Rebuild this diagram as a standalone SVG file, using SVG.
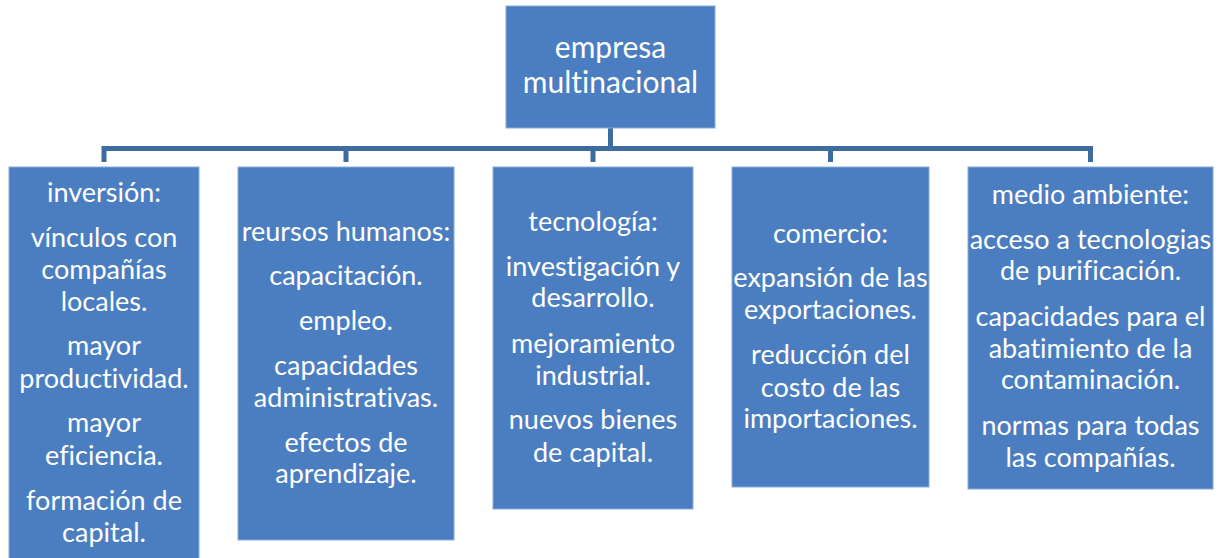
<svg xmlns="http://www.w3.org/2000/svg" width="1222" height="558" viewBox="0 0 1222 558">
<style>
.box{fill:#4B7EC0;stroke:#8AAAD8;stroke-width:1}
.t{font-family:Lato,"Liberation Sans",sans-serif;font-size:27px;fill:#fff;text-anchor:middle;font-variant-ligatures:none}
.tt{font-family:Lato,"Liberation Sans",sans-serif;font-size:30px;fill:#fff;text-anchor:middle;font-variant-ligatures:none}
.c{stroke:#3F6C9E;stroke-width:5;fill:none}
</style>
<rect width="1222" height="558" fill="#fff"/>
<g id="connectors">
<path class="c" d="M610.5 128V148.5M104 162V148.5H1090.5V162M346 148.5V162M593 148.5V162M830.5 148.5V162"/>
</g>
<g id="n0">
<rect class="box" x="506" y="6" width="209" height="122"/>
<text class="tt" x="610.5" y="58">empresa</text>
<text class="tt" x="610.5" y="93">multinacional</text>
</g>
<g id="n1">
<rect class="box" x="9" y="167" width="190" height="395"/>
<text class="t" x="104" y="202">inversión:</text>
<text class="t" x="104" y="247">vínculos con</text>
<text class="t" x="104" y="279">compañías</text>
<text class="t" x="104" y="311">locales.</text>
<text class="t" x="104" y="355">mayor</text>
<text class="t" x="104" y="388">productividad.</text>
<text class="t" x="104" y="432">mayor</text>
<text class="t" x="104" y="465">eficiencia.</text>
<text class="t" x="104" y="510">formación de</text>
<text class="t" x="104" y="542">capital.</text>
</g>
<g id="n2">
<rect class="box" x="238" y="167" width="216" height="373"/>
<text class="t" x="346" y="241">reursos humanos:</text>
<text class="t" x="346" y="285">capacitación.</text>
<text class="t" x="346" y="330">empleo.</text>
<text class="t" x="346" y="375">capacidades</text>
<text class="t" x="346" y="407">administrativas.</text>
<text class="t" x="346" y="452">efectos de</text>
<text class="t" x="346" y="483">aprendizaje.</text>
</g>
<g id="n3">
<rect class="box" x="493" y="167" width="200" height="342"/>
<text class="t" x="593" y="231">tecnología:</text>
<text class="t" x="593" y="276">investigación y</text>
<text class="t" x="593" y="307">desarrollo.</text>
<text class="t" x="593" y="353">mejoramiento</text>
<text class="t" x="593" y="385">industrial.</text>
<text class="t" x="593" y="429">nuevos bienes</text>
<text class="t" x="593" y="462">de capital.</text>
</g>
<g id="n4">
<rect class="box" x="732" y="167" width="197" height="320"/>
<text class="t" x="830.5" y="243">comercio:</text>
<text class="t" x="830.5" y="287">expansión de las</text>
<text class="t" x="830.5" y="319">exportaciones.</text>
<text class="t" x="830.5" y="364">reducción del</text>
<text class="t" x="830.5" y="397">costo de las</text>
<text class="t" x="830.5" y="428">importaciones.</text>
</g>
<g id="n5">
<rect class="box" x="968" y="167" width="245" height="322"/>
<text class="t" x="1090.5" y="204">medio ambiente:</text>
<text class="t" x="1090.5" y="249">acceso a tecnologias</text>
<text class="t" x="1090.5" y="280">de purificación.</text>
<text class="t" x="1090.5" y="326">capacidades para el</text>
<text class="t" x="1090.5" y="358">abatimiento de la</text>
<text class="t" x="1090.5" y="389">contaminación.</text>
<text class="t" x="1090.5" y="435">normas para todas</text>
<text class="t" x="1090.5" y="467">las compañías.</text>
</g>
</svg>
